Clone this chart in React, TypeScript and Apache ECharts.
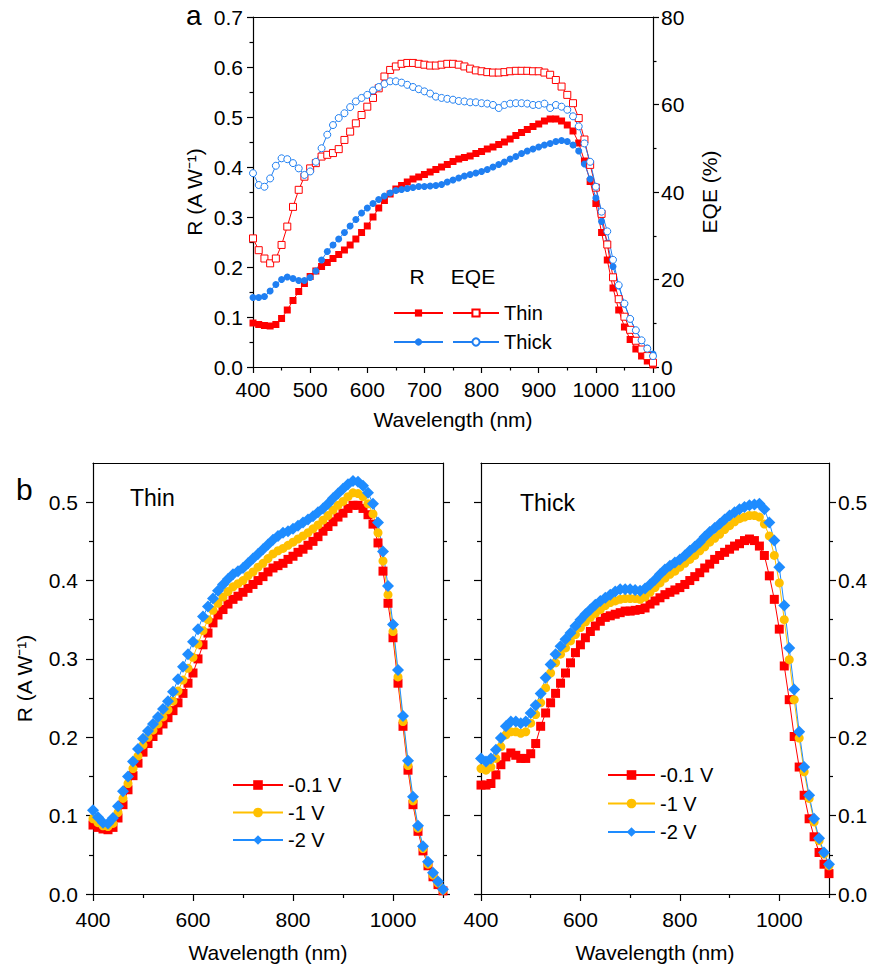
import React, { useEffect, useRef } from 'react';
import * as echarts from 'echarts';

const wavelengths = [
  400, 410, 420, 430, 440, 450, 460, 470, 480, 490,
  500, 510, 520, 530, 540, 550, 560, 570, 580, 590,
  600, 610, 620, 630, 640, 650, 660, 670, 680, 690,
  700, 710, 720, 730, 740, 750, 760, 770, 780, 790,
  800, 810, 820, 830, 840, 850, 860, 870, 880, 890,
  900, 910, 920, 930, 940, 950, 960, 970, 980, 990,
  1000, 1010, 1020, 1030, 1040, 1050, 1060, 1070, 1080, 1090,
  1100,
];

// Thin device responsivity (A/W)
const thinR01 = [
  0.088, 0.085, 0.083, 0.082, 0.085, 0.097, 0.114, 0.133, 0.151, 0.167,
  0.181, 0.192, 0.201, 0.209, 0.217, 0.225, 0.234, 0.244, 0.256, 0.269,
  0.282, 0.300, 0.318, 0.333, 0.346, 0.356, 0.363, 0.370, 0.376, 0.380,
  0.385, 0.390, 0.395, 0.400, 0.405, 0.411, 0.416, 0.419, 0.422, 0.427,
  0.431, 0.436, 0.440, 0.445, 0.450, 0.456, 0.463, 0.469, 0.475, 0.481,
  0.486, 0.492, 0.496, 0.496, 0.492, 0.484, 0.472, 0.448, 0.412, 0.371,
  0.327, 0.269, 0.214, 0.158, 0.114, 0.080, 0.055, 0.036, 0.022, 0.012,
  0.004,
];
const thinR1 = [
  0.096, 0.091, 0.087, 0.086, 0.090, 0.104, 0.122, 0.141, 0.160, 0.176,
  0.190, 0.200, 0.209, 0.217, 0.226, 0.235, 0.246, 0.259, 0.273, 0.288,
  0.302, 0.319, 0.336, 0.350, 0.362, 0.371, 0.379, 0.386, 0.392, 0.396,
  0.400, 0.406, 0.411, 0.417, 0.422, 0.428, 0.434, 0.438, 0.441, 0.445,
  0.449, 0.453, 0.457, 0.461, 0.466, 0.471, 0.477, 0.483, 0.490, 0.496,
  0.501, 0.507, 0.512, 0.511, 0.507, 0.498, 0.485, 0.461, 0.425, 0.382,
  0.335, 0.277, 0.220, 0.164, 0.119, 0.084, 0.058, 0.038, 0.024, 0.014,
  0.005,
];
const thinR2 = [
  0.107, 0.098, 0.091, 0.090, 0.097, 0.112, 0.131, 0.150, 0.169, 0.185,
  0.198, 0.208, 0.217, 0.226, 0.236, 0.246, 0.258, 0.274, 0.290, 0.306,
  0.322, 0.338, 0.354, 0.367, 0.377, 0.387, 0.395, 0.402, 0.408, 0.412,
  0.416, 0.422, 0.428, 0.434, 0.440, 0.446, 0.452, 0.457, 0.461, 0.463,
  0.466, 0.470, 0.474, 0.478, 0.482, 0.487, 0.492, 0.498, 0.505, 0.511,
  0.517, 0.523, 0.527, 0.526, 0.521, 0.512, 0.498, 0.474, 0.437, 0.393,
  0.344, 0.286, 0.227, 0.170, 0.124, 0.087, 0.061, 0.041, 0.027, 0.016,
  0.006,
];

// Thick device responsivity (A/W)
const thickR01 = [
  0.139, 0.139, 0.141, 0.152, 0.165, 0.175, 0.180, 0.177, 0.173, 0.173,
  0.179, 0.192, 0.214, 0.231, 0.244, 0.256, 0.269, 0.282, 0.295, 0.308,
  0.318, 0.327, 0.335, 0.342, 0.348, 0.353, 0.355, 0.357, 0.359, 0.361,
  0.361, 0.362, 0.363, 0.365, 0.370, 0.374, 0.378, 0.382, 0.385, 0.388,
  0.391, 0.395, 0.400, 0.405, 0.410, 0.416, 0.421, 0.427, 0.432, 0.436,
  0.440, 0.444, 0.447, 0.451, 0.453, 0.451, 0.444, 0.432, 0.406, 0.376,
  0.338, 0.291, 0.248, 0.201, 0.162, 0.126, 0.096, 0.073, 0.053, 0.038,
  0.026,
];
const thickR1 = [
  0.160, 0.158, 0.162, 0.173, 0.188, 0.203, 0.207, 0.207, 0.205, 0.207,
  0.218, 0.229, 0.244, 0.263, 0.282, 0.295, 0.306, 0.314, 0.323, 0.331,
  0.340, 0.347, 0.353, 0.358, 0.363, 0.368, 0.372, 0.374, 0.376, 0.377,
  0.377, 0.377, 0.376, 0.379, 0.385, 0.391, 0.397, 0.403, 0.408, 0.412,
  0.417, 0.422, 0.427, 0.432, 0.438, 0.443, 0.449, 0.454, 0.459, 0.465,
  0.470, 0.475, 0.479, 0.481, 0.483, 0.483, 0.481, 0.472, 0.457, 0.432,
  0.397, 0.350, 0.299, 0.248, 0.199, 0.156, 0.122, 0.092, 0.068, 0.051,
  0.036,
];
const thickR2 = [
  0.173, 0.169, 0.173, 0.184, 0.199, 0.214, 0.220, 0.220, 0.218, 0.220,
  0.231, 0.241, 0.256, 0.276, 0.293, 0.306, 0.316, 0.325, 0.333, 0.342,
  0.350, 0.357, 0.363, 0.369, 0.374, 0.378, 0.382, 0.386, 0.389, 0.389,
  0.389, 0.388, 0.387, 0.390, 0.395, 0.401, 0.408, 0.414, 0.419, 0.423,
  0.427, 0.432, 0.438, 0.443, 0.449, 0.456, 0.462, 0.467, 0.472, 0.478,
  0.483, 0.487, 0.491, 0.494, 0.496, 0.497, 0.498, 0.491, 0.474, 0.451,
  0.417, 0.368, 0.314, 0.261, 0.207, 0.162, 0.126, 0.096, 0.071, 0.053,
  0.038,
];

// EQE (%)
const thinEQE = [
  29.4, 26.7, 24.8, 23.7, 24.8, 27.9, 32.1, 36.6, 40.5, 43.5,
  45.4, 46.6, 48.1, 48.5, 48.9, 49.8, 51.9, 53.8, 55.7, 57.6,
  59.5, 61.5, 63.7, 66.4, 67.9, 68.7, 69.3, 69.5, 69.5, 69.3,
  69.1, 68.9, 68.9, 69.1, 69.3, 69.3, 69.1, 68.7, 68.2, 67.8,
  67.6, 67.4, 67.3, 67.3, 67.4, 67.6, 67.7, 67.7, 67.7, 67.6,
  67.6, 67.3, 66.8, 65.6, 64.1, 62.2, 60.3, 56.9, 52.0, 46.2,
  41.0, 35.0, 28.0, 20.5, 15.5, 11.5, 8.5, 6.0, 4.0, 2.5,
  1.0,
];
const thickEQE = [
  44.3, 41.6, 41.2, 43.1, 46.0, 47.7, 47.5, 46.6, 45.4, 43.9,
  44.7, 46.9, 50.0, 53.1, 55.3, 56.9, 58.0, 59.4, 60.7, 61.5,
  62.2, 63.2, 64.0, 64.7, 65.3, 65.3, 65.0, 64.5, 64.0, 63.5,
  63.0, 62.5, 61.8, 61.5, 61.3, 61.1, 60.8, 60.7, 60.5, 60.5,
  60.3, 60.2, 59.9, 59.2, 59.9, 60.2, 60.3, 60.3, 60.2, 59.9,
  59.9, 60.2, 59.2, 59.9, 59.5, 58.8, 57.3, 55.0, 51.1, 46.9,
  41.2, 35.5, 31.0, 24.5, 18.7, 14.5, 11.0, 8.4, 6.1, 4.2,
  2.5,
];

const xTicksB = [400, 600, 800, 1000];
const xMinorB = [500, 700, 900, 1100];
const yTicksB = [0, 0.1, 0.2, 0.3, 0.4, 0.5];
const yMinorB = [0.05, 0.15, 0.25, 0.35, 0.45];
const biasNames = ['-0.1 V', '-1 V', '-2 V'];

const FONT = '"Liberation Sans", Arial, Helvetica, sans-serif';
const RED = '#ff0000';
const BLUE_A = '#1f7ff2';
const BLUE = '#1e8cff';
const YEL = '#ffc000';
const AX = { color: '#000', width: 1.2 };

const pairs = (ys: number[]) => wavelengths.map((w, i) => [w, ys[i]]);
const fmt1 = (v: number) => v.toFixed(1);
const lbl = { color: '#000', fontSize: 21, fontFamily: FONT };
const nameStyle = { color: '#000', fontSize: 21, fontFamily: FONT };

function lineOnlyX(grid: number, position: string) {
  return {
    type: 'value', gridIndex: grid, position, min: 400, max: 1100,
    axisLine: { show: true, onZero: false, lineStyle: AX },
    axisTick: { show: false }, axisLabel: { show: false },
    splitLine: { show: false },
  };
}
function minorX(grid: number) {
  return {
    type: 'value', gridIndex: grid, position: 'bottom', min: 400, max: 1100, interval: 100,
    axisLine: { show: false, onZero: false },
    axisTick: { show: true, length: 4, customValues: xMinorB, lineStyle: AX },
    axisLabel: { show: false }, splitLine: { show: false },
  };
}
function mainXB(grid: number) {
  return {
    type: 'value', gridIndex: grid, position: 'bottom', min: 400, max: 1100, interval: 100,
    axisLine: { show: true, onZero: false, lineStyle: AX },
    axisTick: { show: true, length: 7, customValues: xTicksB, lineStyle: AX },
    axisLabel: {
      ...lbl, margin: 15, customValues: xTicksB,
      formatter: (v: number) => (v % 200 === 0 && v <= 1000 ? String(v) : ''),
    },
    splitLine: { show: false },
    name: 'Wavelength (nm)', nameLocation: 'middle', nameGap: 48, nameTextStyle: nameStyle,
  };
}
function mainYB(grid: number, position: string, labels: boolean, margin: number, name?: string) {
  return {
    type: 'value', gridIndex: grid, position, min: 0, max: 0.55, interval: 0.1,
    axisLine: { show: true, onZero: false, lineStyle: AX },
    axisTick: { show: true, length: 7, customValues: yTicksB, lineStyle: AX },
    axisLabel: {
      show: labels, ...lbl, margin, customValues: yTicksB,
      formatter: (v: number) => (v <= 0.52 && Math.abs(v * 10 - Math.round(v * 10)) < 1e-6 ? fmt1(v) : ''),
    },
    splitLine: { show: false },
    ...(name
      ? { name, nameLocation: 'middle', nameGap: 58, nameRotate: 90, nameTextStyle: nameStyle }
      : {}),
  };
}
function minorYB(grid: number, position: string) {
  return {
    type: 'value', gridIndex: grid, position, min: 0, max: 0.55, interval: 0.05,
    axisLine: { show: false, onZero: false },
    axisTick: { show: true, length: 4, customValues: yMinorB, lineStyle: AX },
    axisLabel: { show: false }, splitLine: { show: false },
  };
}

function bSeries(prefix: string, data: number[][], xi: number, yi: number) {
  const syms = ['rect', 'circle', 'diamond'];
  const sizes = [9, 9, 12];
  const cols = [RED, YEL, BLUE];
  return data.map((d, i) => ({
    type: 'line', name: `${prefix} ${biasNames[i]}`, xAxisIndex: xi, yAxisIndex: yi,
    data: pairs(d), symbol: syms[i], symbolSize: sizes[i],
    itemStyle: { color: cols[i], borderWidth: 0 },
    lineStyle: { color: cols[i], width: 1 },
    emphasis: { disabled: true },
  }));
}

function buildOption() {
  const legendText = { color: '#000', fontSize: 20, fontFamily: FONT, lineHeight: 24 };
  return {
    animation: false,
    backgroundColor: '#fff',
    grid: [
      { left: 253, top: 17, width: 400, height: 350 },
      { left: 93, top: 463, width: 350, height: 431 },
      { left: 481, top: 463, width: 348, height: 431 },
    ],
    xAxis: [
      {
        type: 'value', gridIndex: 0, position: 'bottom', min: 400, max: 1100, interval: 100,
        axisLine: { show: true, onZero: false, lineStyle: AX },
        axisTick: { show: true, length: 6, lineStyle: AX },
        minorTick: { show: true, splitNumber: 2, length: 3.5, lineStyle: AX },
        axisLabel: { ...lbl, margin: 12, formatter: (v: number) => String(v) },
        splitLine: { show: false }, minorSplitLine: { show: false },
        name: 'Wavelength (nm)', nameLocation: 'middle', nameGap: 42, nameTextStyle: nameStyle,
      },
      lineOnlyX(0, 'top'),
      mainXB(1), minorX(1), lineOnlyX(1, 'top'),
      mainXB(2), minorX(2), lineOnlyX(2, 'top'),
    ],
    yAxis: [
      {
        type: 'value', gridIndex: 0, position: 'left', min: 0, max: 0.7, interval: 0.1,
        axisLine: { show: true, onZero: false, lineStyle: AX },
        axisTick: { show: true, length: 6, lineStyle: AX },
        minorTick: { show: true, splitNumber: 2, length: 3.5, lineStyle: AX },
        axisLabel: { ...lbl, margin: 10, formatter: fmt1 },
        splitLine: { show: false }, minorSplitLine: { show: false },
        name: 'R (A W\u207B\u00B9)', nameLocation: 'middle', nameGap: 48, nameRotate: 90,
        nameTextStyle: nameStyle,
      },
      {
        type: 'value', gridIndex: 0, position: 'right', min: 0, max: 80, interval: 20,
        axisLine: { show: true, onZero: false, lineStyle: AX },
        axisTick: { show: true, length: 6, lineStyle: AX },
        minorTick: { show: true, splitNumber: 2, length: 3.5, lineStyle: AX },
        axisLabel: { ...lbl, margin: 8 },
        splitLine: { show: false }, minorSplitLine: { show: false },
        name: 'EQE (%)', nameLocation: 'middle', nameGap: 46, nameRotate: 90,
        nameTextStyle: nameStyle,
      },
      mainYB(1, 'left', true, 15, 'R (A W\u207B\u00B9)'), minorYB(1, 'left'),
      mainYB(1, 'right', false, 8), minorYB(1, 'right'),
      mainYB(2, 'left', false, 8), minorYB(2, 'left'),
      mainYB(2, 'right', true, 9), minorYB(2, 'right'),
    ],
    legend: [
      {
        data: ['Thin R', 'Thick R'], orient: 'vertical', left: 393, top: 301, padding: 0,
        itemWidth: 49, itemHeight: 9, itemGap: 5, selectedMode: false,
        formatter: () => ' ', textStyle: legendText,
      },
      {
        data: ['Thin EQE', 'Thick EQE'], orient: 'vertical', left: 452, top: 301, padding: 0,
        itemWidth: 46, itemHeight: 9, itemGap: 5, selectedMode: false,
        formatter: (n: string) => n.replace(' EQE', ''), textStyle: legendText,
      },
      {
        data: biasNames.map((b) => `Thin ${b}`), orient: 'vertical', left: 232, top: 773, padding: 0,
        itemWidth: 50, itemHeight: 12, itemGap: 3.5, selectedMode: false,
        formatter: (n: string) => n.replace('Thin ', ''), textStyle: legendText,
      },
      {
        data: biasNames.map((b) => `Thick ${b}`), orient: 'vertical', left: 607, top: 763, padding: 0,
        itemWidth: 47, itemHeight: 12, itemGap: 4.5, selectedMode: false,
        formatter: (n: string) => n.replace('Thick ', ''), textStyle: legendText,
      },
    ],
    graphic: [
      { type: 'text', x: 186, y: 15, style: { text: 'a', fontSize: 28, fontFamily: FONT, fill: '#000', verticalAlign: 'middle' } },
      { type: 'text', x: 16, y: 489, style: { text: 'b', fontSize: 30, fontFamily: FONT, fill: '#000', verticalAlign: 'middle' } },
      { type: 'text', x: 417, y: 276, style: { text: 'R', fontSize: 21, fontFamily: FONT, fill: '#000', align: 'center', verticalAlign: 'middle' } },
      { type: 'text', x: 473, y: 276, style: { text: 'EQE', fontSize: 21, fontFamily: FONT, fill: '#000', align: 'center', verticalAlign: 'middle' } },
      { type: 'text', x: 130, y: 498, style: { text: 'Thin', fontSize: 23, fontFamily: FONT, fill: '#000', verticalAlign: 'middle' } },
      { type: 'text', x: 520, y: 503, style: { text: 'Thick', fontSize: 23, fontFamily: FONT, fill: '#000', verticalAlign: 'middle' } },
    ],
    series: [
      {
        type: 'line', name: 'Thin R', xAxisIndex: 0, yAxisIndex: 0, data: pairs(thinR01),
        symbol: 'rect', symbolSize: 7, itemStyle: { color: RED, borderWidth: 0 },
        lineStyle: { color: RED, width: 1 }, emphasis: { disabled: true },
      },
      {
        type: 'line', name: 'Thick R', xAxisIndex: 0, yAxisIndex: 0, data: pairs(thickR01),
        symbol: 'circle', symbolSize: 7, itemStyle: { color: BLUE_A, borderWidth: 0 },
        lineStyle: { color: BLUE_A, width: 1 }, emphasis: { disabled: true },
      },
      {
        type: 'line', name: 'Thin EQE', xAxisIndex: 0, yAxisIndex: 1, data: pairs(thinEQE),
        symbol: 'rect', symbolSize: 7,
        itemStyle: { color: '#fff', borderColor: RED, borderWidth: 1 },
        lineStyle: { color: RED, width: 1 }, emphasis: { disabled: true },
      },
      {
        type: 'line', name: 'Thick EQE', xAxisIndex: 0, yAxisIndex: 1, data: pairs(thickEQE),
        symbol: 'circle', symbolSize: 7,
        itemStyle: { color: '#fff', borderColor: BLUE_A, borderWidth: 1 },
        lineStyle: { color: BLUE_A, width: 1 }, emphasis: { disabled: true },
      },
      ...bSeries('Thin', [thinR01, thinR1, thinR2], 2, 2),
      ...bSeries('Thick', [thickR01, thickR1, thickR2], 5, 8),
    ],
  };
}

export default function App() {
  const ref = useRef<HTMLDivElement>(null);
  useEffect(() => {
    document.body.style.margin = '0';
    const chart = echarts.init(ref.current as HTMLDivElement, null, { renderer: 'svg' });
    chart.setOption(buildOption() as any);
    return () => chart.dispose();
  }, []);
  return <div ref={ref} style={{ width: 878, height: 972, background: '#fff' }} />;
}
